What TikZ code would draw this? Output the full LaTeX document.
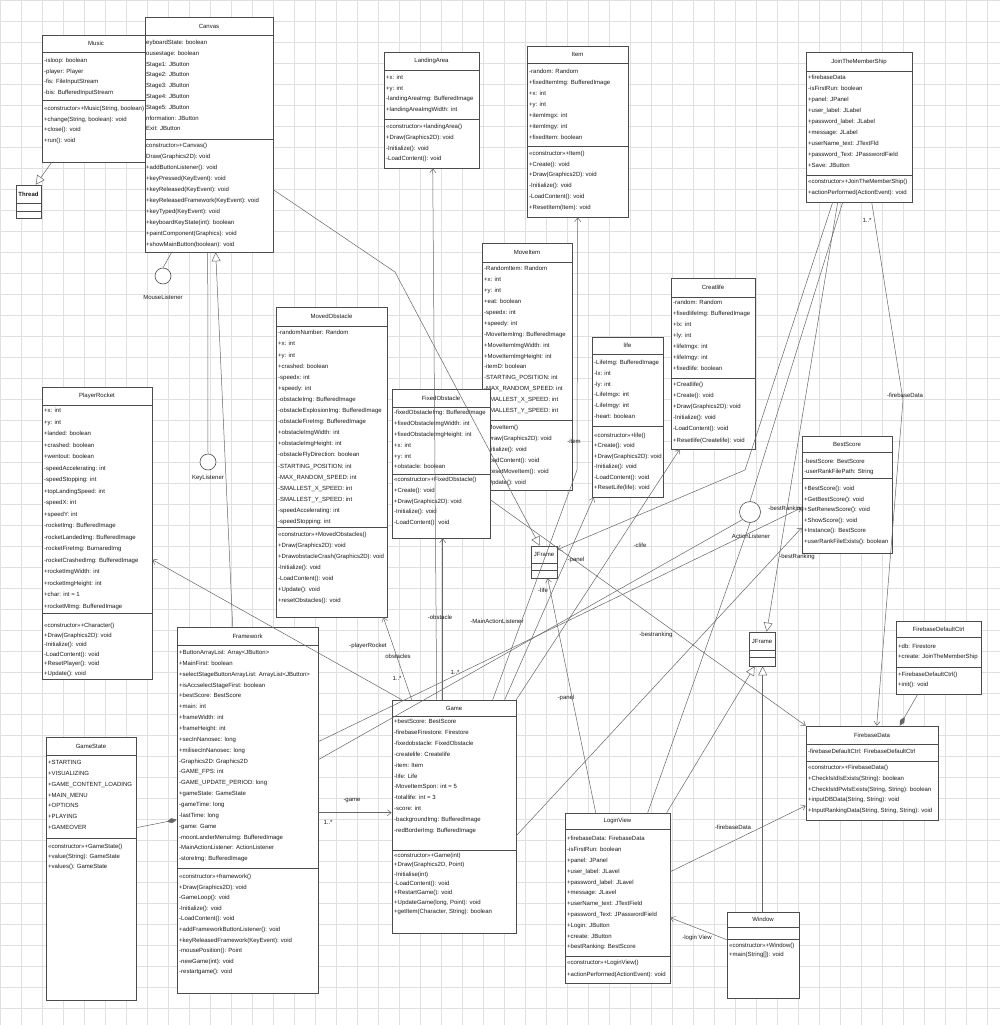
\documentclass[tikz,border=0pt]{standalone}
\usepackage{fontspec}
\setmainfont{Liberation Sans}
\usetikzlibrary{arrows.meta,fit,shadows}
\tikzset{
 classbox/.style={draw=black!70, fill=white, inner sep=0pt, line width=0.6pt,
   general shadow={fill=black!22, shadow xshift=1.2pt, shadow yshift=-1.2pt}},
 sepline/.style={draw=black!70, line width=0.5pt},
 ctitle/.style={font=\fontsize{6}{7}\selectfont, text=black!90, inner sep=0pt},
 mem/.style={font=\fontsize{6}{#1}\selectfont, align=left, inner sep=0pt, anchor=north west,
   text=black!90, execute at begin node={\rule{0pt}{5pt}}},
 conn/.style={draw=black!60, line width=0.5pt},
 assoc/.style={conn, -{Straight Barb[length=4pt,width=6pt]}},
 gen/.style={conn, -{Triangle[open,length=9pt,width=9pt,fill=white]}},
 comp/.style={conn, -{Diamond[length=10pt,width=5pt]}},
 lbl/.style={font=\fontsize{6}{7}\selectfont, inner sep=0pt, text=black!90},
 lolli/.style={circle, draw=black!70, fill=white, inner sep=0pt, line width=0.6pt},
}
\newcommand\uclass[8]{%
  \node[classbox, fit={(#2,#3) (#4,#5)}] (#1) {};
  \draw[sepline] (#2,#6) -- (#4,#6);
  \draw[sepline] (#2,#7) -- (#4,#7);
  \node[ctitle] (#1-t) at ({(#2+#4)/2},{(#3+#6)/2}) {#8};
}
\begin{document}
\begin{tikzpicture}[x=1pt,y=-1pt]
\fill[white] (0,0) rectangle (1000,1025);
\useasboundingbox (0,0) rectangle (1000,1025);
\draw[black!12, line width=0.4pt, step=21pt] (0,0) grid (1000,1025);

% ---------- classes ----------
\uclass{music}{42}{35}{150}{162}{52}{100}{Music}
\node[mem=10.5] (music-a) at (44,58) {-isloop: boolean\\-player: Player\\-fis: FileInputStream\\-bis: BufferedInputStream};
\node[mem=10.5] (music-m) at (44,106) {«constructor»+Music(String, boolean)\\+change(String, boolean): void\\+close(): void\\+run(): void};

\uclass{thread}{16}{185}{41}{218}{203}{211}{\textbf{Thread}}

\uclass{canvas}{145}{17}{273}{252}{35}{139}{Canvas}
\node[mem=10.8] (canvas-a) at (146,40) {eyboardState: boolean\\ousestage: boolean\\Stage1: JButton\\Stage2: JButton\\Stage3: JButton\\Stage4: JButton\\Stage5: JButton\\nformation: JButton\\Exit: JButton};
\node[mem=11] (canvas-m) at (146,143) {constructor»+Canvas()\\Draw(Graphics2D): void\\+addButtonListener(): void\\+keyPressed(KeyEvent): void\\+keyReleased(KeyEvent): void\\+keyReleasedFramework(KeyEvent): void\\+keyTyped(KeyEvent): void\\+keyboardKeyState(int): boolean\\+paintComponent(Graphics): void\\+showMainButton(boolean): void};

\uclass{landing}{384}{52}{479}{168}{70}{119}{LandingArea}
\node[mem=10.6] (landing-a) at (386,75) {+x: int\\+y: int\\-landingAreaImg: BufferedImage\\+landingAreaImgWidth: int};
\node[mem=10.9] (landing-m) at (386,123.7) {«constructor»+landingArea()\\+Draw(Graphics2D): void\\-Initialize(): void\\-LoadContent(): void};

\uclass{item}{527}{46}{628}{217}{63}{146}{Item}
\node[mem=11] (item-a) at (529,68.7) {-random: Random\\+fixedItemImg: BufferedImage\\+x: int\\+y: int\\+itemImgx: int\\+itemImgy: int\\+fixedItem: boolean};
\node[mem=10.7] (item-m) at (529,151) {«constructor»+Item()\\+Create(): void\\+Draw(Graphics2D): void\\-Initialize(): void\\-LoadContent(): void\\+ResetItem(Item): void};

\uclass{join}{806}{52}{912}{202}{71}{175}{JoinTheMemberShip}
\node[mem=11] (join-a) at (808,74.7) {+firebaseData\\-isFirstRun: boolean\\+panel: JPanel\\+user\_label: JLabel\\+password\_label: JLabel\\+message: JLabel\\+userName\_text: JTextFld\\+password\_Text: JPasswordField\\+Save: JButton};
\node[mem=11.7] (join-m) at (808,178.7) {«constructor»+JoinTheMemberShip()\\+actionPerformed(ActionEvent): void};

\uclass{moveitem}{482}{243}{572}{490}{262}{420}{MoveItem}
\node[mem=10.9] (moveitem-a) at (484,266.3) {-RandomItem: Random\\+x: int\\+y: int\\+eat: boolean\\-speedx: int\\+speedy: int\\-MoveItemImg: BufferedImage\\+MoveItemImgWidth: int\\+MoveItemImgHeight: int\\-itemD: boolean\\-STARTING\_POSITION: int\\-MAX\_RANDOM\_SPEED: int\\-SMALLEST\_X\_SPEED: int\\-SMALLEST\_Y\_SPEED: int};
\node[mem=11] (moveitem-m) at (484,425.3) {+MoveItem()\\+Draw(Graphics2D): void\\-Initialize(): void\\-LoadContent(): void\\+ResetMoveItem(): void\\+Update(): void};

\uclass{movedobs}{276}{307}{387}{617}{326}{527}{MovedObstacle}
\node[mem=11.1] (movedobs-a) at (278,330.3) {-randomNumber: Random\\+x: int\\+y: int\\+crashed: boolean\\-speedx: int\\+speedy: int\\-obstacleImg: BufferedImage\\-obstacleExplosionImg: BufferedImage\\-obstacleFireImg: BufferedImage\\+obstacleImgWidth: int\\+obstacleImgHeight: int\\-obstacleFlyDirection: boolean\\-STARTING\_POSITION: int\\-MAX\_RANDOM\_SPEED: int\\-SMALLEST\_X\_SPEED: int\\-SMALLEST\_Y\_SPEED: int\\-speedAccelerating: int\\-speedStopping: int};
\node[mem=11] (movedobs-m) at (278,532) {«constructor»+MovedObstacles()\\+Draw(Graphics2D): void\\+DrawobstacleCrash(Graphics2D): void\\-Initialize(): void\\-LoadContent(): void\\+Update(): void\\+resetObstacles(): void};

\uclass{fixedobs}{392}{389}{490}{538}{407}{474}{FixedObstacle}
\node[mem=10.8] (fixedobs-a) at (394,410.3) {-fixedObstacleImg: BufferedImage\\+fixedObstacleImgWidth: int\\+fixedObstacleImgHeight: int\\+x: int\\+y: int\\+obstacle: boolean};
\node[mem=10.8] (fixedobs-m) at (394,477) {«constructor»+FixedObstacle()\\+Create(): void\\+Draw(Graphics2D): void\\-Initialize(): void\\-LoadContent(): void};

\uclass{life}{592}{337}{663}{497}{354}{426}{life}
\node[mem=10.7] (life-a) at (594,360.3) {-LifeImg: BufferedImage\\-lx: int\\-ly: int\\-LifeImgx: int\\-LifeImgy: int\\-heart: boolean};
\node[mem=10.5] (life-m) at (594,432.7) {«constructor»+life()\\+Create(): void\\+Draw(Graphics2D): void\\-Initialize(): void\\-LoadContent(): void\\+ResetLife(life): void};

\uclass{creatlife}{671}{278}{755}{449}{297}{378}{Creatlife}
\node[mem=10.9] (creatlife-a) at (673,300.3) {-random: Random\\+fixedlifeImg: BufferedImage\\+lx: int\\+ly: int\\+lifeImgx: int\\+lifeImgy: int\\+fixedlife: boolean};
\node[mem=11.1] (creatlife-m) at (673,382) {+Creatlife()\\+Create(): void\\+Draw(Graphics2D): void\\-Initialize(): void\\-LoadContent(): void\\+Resetlife(Createlife): void};

\uclass{bestscore}{802}{436}{892}{553}{452}{478}{BestScore}
\node[mem=9.3] (bestscore-a) at (804,459.3) {-bestScore: BestScore\\-userRankFilePath: String};
\node[mem=10.5] (bestscore-m) at (804,486) {+BestScore(): void\\+GetBestScore(): void\\+SetRenewScore(): void\\+ShowScore(): void\\+Instance(): BestScore\\+userRankFileExists(): boolean};

\uclass{rocket}{42}{387}{152}{679}{405}{613}{PlayerRocket}
\node[mem=11.5] (rocket-a) at (44,408) {+x: int\\+y: int\\+landed: boolean\\+crashed: boolean\\+wentout: boolean\\-speedAccelerating: int\\-speedStopping: int\\+topLandingSpeed: int\\-speedX: int\\+speedY: int\\-rocketImg: BufferedImage\\-rocketLandedImg: BufferedImage\\-rocketFireImg: BurnaredImg\\-rocketCrashedImg: BufferedImage\\+rocketImgWidth: int\\+rocketImgHeight: int\\+char: int = 1\\+rocketMImg: BufferedImage};
\node[mem=9.5] (rocket-m) at (44,623) {«constructor»+Character()\\+Draw(Graphics2D): void\\-Initialize(): void\\-LoadContent(): void\\+ResetPlayer(): void\\+Update(): void};

\uclass{framework}{177}{627}{318}{993}{645}{868}{Framework}
\node[mem=10.85] (framework-a) at (179,650) {+ButtonArrayList: Array<JButton>\\+MainFirst: boolean\\+selectStageButtonArrayList: ArrayList<JButton>\\+isAccselectStageFirst: boolean\\+bestScore: BestScore\\+main: int\\+frameWidth: int\\+frameHeight: int\\+secInNanosec: long\\+milisecInNanosec: long\\-Graphics2D: Graphics2D\\-GAME\_FPS: int\\-GAME\_UPDATE\_PERIOD: long\\+gameState: GameState\\-gameTime: long\\-lastTime: long\\-game: Game\\-moonLanderMenuImg: BufferedImage\\-MainActionListener: ActionListener\\-storeImg: BufferedImage};
\node[mem=10.6] (framework-m) at (179,874) {«constructor»+framework()\\+Draw(Graphics2D): void\\-GameLoop(): void\\-Initialize(): void\\-LoadContent(): void\\+addFrameworkButtonListener(): void\\+keyReleasedFramework(KeyEvent): void\\-mousePosition(): Point\\-newGame(int): void\\-restartgame(): void};

\uclass{game}{392}{700}{516}{933}{716}{850}{Game}
\node[mem=10.9] (game-a) at (394,719) {+bestScore: BestScore\\-firebaseFirestore: Firestore\\-fixedobstacle: FixedObstacle\\-createlife: Createlife\\-item: Item\\-life: Life\\-MoveItemSpon: int = 5\\-totallife: int = 3\\-score: int\\-backgroundImg: BufferedImage\\-redBorderImg: BufferedImage};
\node[mem=9.3] (game-m) at (394,853) {«constructor»+Game(int)\\+Draw(Graphics2D, Point)\\-Initialise(int)\\-LoadContent(): void\\+RestartGame(): void\\+UpdateGame(long, Point): void\\+getItem(Character, String): boolean};

\uclass{gamestate}{46}{737}{136}{1000}{755}{838}{GameState}
\node[mem=10.8] (gamestate-a) at (48,760.3) {+STARTING\\+VISUALIZING\\+GAME\_CONTENT\_LOADING\\+MAIN\_MENU\\+OPTIONS\\+PLAYING\\+GAMEOVER};
\node[mem=10] (gamestate-m) at (48,843.7) {«constructor»+GameState()\\+value(String): GameState\\+values(): GameState};

\uclass{login}{565}{813}{670}{983}{829}{956}{LoginView}
\node[mem=10.8] (login-a) at (567,836.3) {+firebaseData: FirebaseData\\-isFirstRun: boolean\\+panel: JPanel\\+user\_label: JLavel\\+password\_label: JLavel\\+message: JLavel\\+userName\_text: JTextField\\+password\_Text: JPasswordField\\+Login: JButton\\+create: JButton\\+bestRanking: BestScore};
\node[mem=11.7] (login-m) at (567,960.3) {«constructor»+LoginView()\\+actionPerformed(ActionEvent): void};

\uclass{window}{727}{912}{799}{998}{927}{939}{Window}
\node[mem=9.3] (window-m) at (729,942.7) {«constructor»+Window()\\+main(String[]): void};

\uclass{fbctrl}{896}{621}{981}{694}{637}{667}{FirebaseDefaultCtrl}
\node[mem=10] (fbctrl-a) at (898,643.7) {+db: Firestore\\+create: JoinTheMemberShip};
\node[mem=10] (fbctrl-m) at (898,672) {+FirebaseDefaultCtrl()\\+init(): void};

\uclass{fbdata}{806}{726}{938}{820}{744}{761}{FirebaseData}
\node[mem=10] (fbdata-a) at (808,748.7) {-firebaseDefaultCtrl: FirebaseDefaultCtrl};
\node[mem=10.6] (fbdata-m) at (808,765.3) {«constructor»+FirebaseData()\\+CheckIsIdIsExists(String): boolean\\+CheckIsIdPwIsExists(String, String): boolean\\+inputDBData(String, String): void\\+InputRankingData(String, String, String): void};

\uclass{jframe1}{531}{546}{557}{578}{563}{570}{JFrame}
\uclass{jframe2}{749}{632}{775}{666}{650}{657}{JFrame}

% ---------- lollipops ----------
\node[lolli, minimum size=16pt] (mlis) at (163,276) {};
\node[lbl] (mlis-l) at (163,297) {MouseListener};
\node[lolli, minimum size=16pt] (klis) at (208,462) {};
\node[lbl] (klis-l) at (208,478) {KeyListener};
\node[lolli, minimum size=21pt] (alis) at (750,512) {};
\node[lbl] (alis-l) at (751,536) {ActionListener};

% ---------- connectors ----------
\draw[gen] ([xshift=10pt]music.south west) -- ([xshift=20pt]thread.north west);
\draw[conn] (mlis.north) -- ([xshift=27pt]canvas.south west);
\draw[conn] (klis.north) -- ([xshift=63pt]canvas.south west);
\draw[gen] ([xshift=56pt]framework.north west) -- ([xshift=71pt]canvas.south west);
\draw[gen] ([yshift=-173pt]canvas.north east) -- (395,272) -- ([xshift=9pt]jframe1.north west);
\draw[assoc] ([xshift=45pt]game.north west) -- ([xshift=49pt]landing.south west);
\draw[assoc] ([xshift=51pt]game.north west) -- ([xshift=51pt]fixedobs.south west);
\draw[assoc] ([xshift=101pt]game.north west) -- (577,470) -- ([xshift=51pt]item.south west);
\draw[assoc] ([xshift=113pt]game.north west) -- ([xshift=2pt]life.south west);
\draw[assoc] (game.north east) -- ([xshift=9pt]creatlife.south west);
\draw[assoc] ([xshift=10pt]game.north west) -- ([yshift=-173pt]rocket.north east);
\draw[assoc] ([xshift=20pt]game.north west) -- ([xshift=-4pt]movedobs.south east);
\draw[assoc] ([yshift=-186pt]framework.north east) -- ([yshift=-113pt]game.north west);
\draw[comp] ([yshift=-91pt]gamestate.north east) -- ([yshift=-193pt]framework.north west);
\draw[conn] ([yshift=-133pt]framework.north east) -- (alis.south west);
\draw[assoc] ([yshift=-115pt]framework.north east) -- ([yshift=-72pt]bestscore.north west);
\draw[assoc] ([yshift=-111pt]fixedobs.north east) -- (fbdata.north west);
\draw[assoc] ([xshift=27pt]join.south west) -- (745,470) -- ([yshift=-4pt]jframe1.north east);
\draw[conn] ([xshift=37pt]join.south west) -- (alis.north);
\draw[gen] ([xshift=32pt]join.south west) -- ([xshift=18pt]jframe2.north west);
\draw[assoc] ([xshift=66pt]join.south west) -- (903,400) -- ([xshift=71pt]fbdata.north west);
\draw[assoc] ([xshift=31pt]login.north west) -- ([xshift=17pt]jframe1.south west);
\draw[conn] ([xshift=83pt]login.north west) -- (alis.south);
\draw[gen] ([xshift=102pt]login.north west) -- ([xshift=6pt]jframe2.south west);
\draw[gen] ([xshift=36pt]window.north west) -- ([xshift=14pt]jframe2.south west);
\draw[assoc] ([yshift=-28pt]window.north west) -- ([yshift=-105pt]login.north east);
\draw[assoc] ([yshift=-59pt]login.north east) -- ([yshift=-80pt]fbdata.north west);
\draw[comp] ([xshift=22pt]fbctrl.south west) -- ([xshift=94pt]fbdata.north west);
\draw[assoc] ([yshift=-136pt]game.north east) -- ([yshift=-92pt]bestscore.north west);

% ---------- labels ----------
\node[lbl] (l1) at (440,617) {-obstacle};
\node[lbl] (l2) at (455,672) {1..*};
\node[lbl] (l3) at (574,441) {-item};
\node[lbl] (l4) at (543,590) {-life};
\node[lbl] (l5) at (640,545) {-clife};
\node[lbl] (l6) at (576,560) {-panel};
\node[lbl] (l7) at (566,698) {-panel};
\node[lbl] (l8) at (497,621) {-MainActionListener};
\node[lbl] (l9) at (656,635) {-bestranking};
\node[lbl] (l10) at (786,509) {-bestRanking};
\node[lbl] (l11) at (797,557) {-bestRanking};
\node[lbl] (l12) at (905,395) {-firebaseData};
\node[lbl] (l13) at (867,220) {1..*};
\node[lbl] (l14) at (733,827) {-firebaseData};
\node[lbl] (l15) at (697,938) {-login View};
\node[lbl] (l16) at (352,800) {-game};
\node[lbl] (l17) at (328,822) {1..*};
\node[lbl] (l18) at (368,646) {-playerRocket};
\node[lbl] (l19) at (398,656) {obstacles};
\node[lbl] (l20) at (397,678) {1..*};
\end{tikzpicture}
\end{document}
